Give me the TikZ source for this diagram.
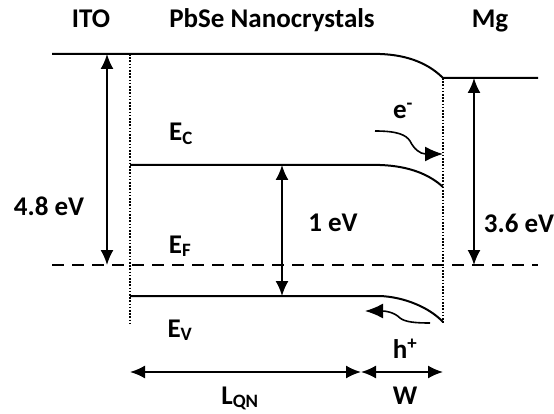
\documentclass[tikz,border=0pt]{standalone}
\usepackage{fontspec}
\setmainfont{Carlito}
\usetikzlibrary{arrows.meta}

\tikzset{
  band/.style={line width=2pt},
  level/.style={line width=1.8pt, >={Latex[length=15pt,width=13pt]}},
  edge/.style={line width=1.2pt, dash pattern=on 1.6pt off 1.6pt},
  fermi/.style={line width=1.6pt, dash pattern=on 12pt off 8pt},
  carrier/.style={line width=1.6pt, -{Latex[length=18pt,width=15pt]}},
  lbl/.style={font=\fontsize{27}{31}\selectfont\bfseries, inner sep=0pt}
}

\begin{document}
\begin{tikzpicture}[x=1pt, y=-1pt]
        \useasboundingbox (0,0) rectangle (554,414);

        % headings
        \node[lbl, anchor=base] (ito) at (91,28) {ITO};
        \node[lbl, anchor=base] (pbse) at (272,28) {PbSe Nanocrystals};
        \node[lbl, anchor=base] (mg) at (490,28) {Mg};

        % band edges
        \coordinate (vac0) at (52,54);
        \coordinate (vac1) at (380,54);
        \coordinate (mg0) at (443,78);
        \coordinate (mg1) at (538,78);
        \coordinate (ec0) at (130,165);
        \coordinate (ec1) at (380,165);
        \coordinate (ec2) at (443,187);
        \coordinate (ev0) at (130,296);
        \coordinate (ev1) at (380,296);
        \coordinate (ev2) at (443,322);
        \coordinate (ef0) at (52,265);
        \coordinate (ef1) at (538,265);

        \draw[band] (vac0) -- (vac1) .. controls (410,55) and (430,65) .. (mg0) -- (mg1);
        \draw[band] (ec0) -- (ec1) .. controls (410,166) and (430,175) .. (ec2);
        \draw[band] (ev0) -- (ev1) .. controls (405,297) and (430,308) .. (ev2);
        \draw[fermi] (ef0) -- (ef1);

        % interfaces
        \coordinate (ifl0) at (130,54);
        \coordinate (ifl1) at (130,324);
        \coordinate (ifr1) at (443,324);
        \draw[edge] (ifl0) -- (ifl1);
        \draw[edge] (mg0) -- (ifr1);

        % energy differences
        \coordinate (ito0) at (107,54);
        \coordinate (ito1) at (107,265);
        \coordinate (gap0) at (282,165);
        \coordinate (gap1) at (282,296);
        \coordinate (mgw0) at (474,78);
        \coordinate (mgw1) at (474,265);

        \draw[level, <->] (ito0) -- (ito1);
        \draw[level, <->] (gap0) -- (gap1);
        \draw[level, <->] (mgw0) -- (mgw1);

        \node[lbl] (itow) at (49,206) {4.8 eV};
        \node[lbl] (gapl) at (333,223) {1 eV};
        \node[lbl] (mgwl) at (519,223) {3.6 eV};

        \node[lbl, anchor=base] (ecl) at (181,141) {E\textsubscript{C}};
        \node[lbl, anchor=base] (efl) at (180,253) {E\textsubscript{F}};
        \node[lbl, anchor=base] (evl) at (180,337) {E\textsubscript{V}};

        % carriers
        \coordinate (el0) at (375,131);
        \coordinate (el1) at (443,154);
        \coordinate (ho0) at (430,323);
        \coordinate (ho1) at (365,311);

        \draw[carrier] (el0) .. controls (398,131) and (406,135) .. (410,141)
             .. controls (414,149) and (420,154) .. (el1);
        \draw[carrier] (ho0) .. controls (415,323) and (405,322) .. (400,318)
             .. controls (394,312) and (385,311) .. (ho1);

        \node[lbl] (ell) at (403,111) {e\textsuperscript{-}};
        \node[lbl] (hol) at (405,349) {h\textsuperscript{+}};

        % widths
        \coordinate (lq0) at (130,372);
        \coordinate (lq1) at (361,372);
        \coordinate (w1) at (443,372);
        \draw[level, <->] (lq0) -- (lq1);
        \draw[level, <->] (lq1) -- (w1);

        \node[lbl, anchor=base] (lql) at (240,404) {L\textsubscript{QN}};
        \node[lbl, anchor=base] (wl) at (405,404) {W};
\end{tikzpicture}
\end{document}
